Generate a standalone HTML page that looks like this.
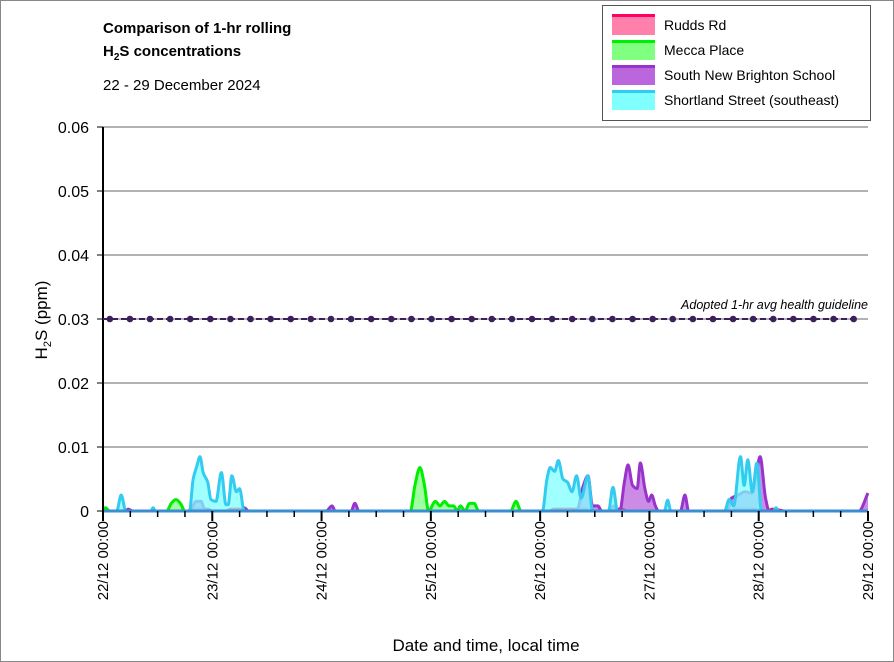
<!DOCTYPE html>
<html><head><meta charset="utf-8">
<style>
body{margin:0;background:#fff;}
svg{display:block;font-family:"Liberation Sans",Calibri,sans-serif;}
</style></head>
<body>
<svg id="chart" width="894" height="662" viewBox="0 0 894 662" xmlns="http://www.w3.org/2000/svg">
<rect x="0.5" y="0.5" width="893" height="661" fill="#fff" stroke="#888"/>
<g>
<text x="103" y="33" font-size="15" font-weight="bold">Comparison of 1-hr rolling</text>
<text x="103" y="56" font-size="15" font-weight="bold">H<tspan font-size="10" dy="4">2</tspan><tspan dy="-4">S concentrations</tspan></text>
<text x="103" y="90" font-size="15">22 - 29 December 2024</text>
</g>
<g id="grid"></g>
<g id="series"></g>
<g id="axes"></g>
<g id="guide"></g>
<text x="868" y="309" font-size="12.5" font-style="italic" text-anchor="end">Adopted 1-hr avg health guideline</text>
<text x="486" y="651" font-size="17" text-anchor="middle">Date and time, local time</text>
<text transform="translate(47,320) rotate(-90)" font-size="17" text-anchor="middle">H<tspan font-size="11" dy="4">2</tspan><tspan dy="-4">S (ppm)</tspan></text>
<g>
<rect x="602.5" y="5.5" width="268" height="115" fill="#fff" stroke="#555"/>
<g><rect x="612" y="15" width="43" height="20" fill="#ff80ab"/><rect x="612" y="14" width="43" height="3" fill="#ff0066"/><text x="664" y="30" font-size="14">Rudds Rd</text></g>
<g><rect x="612" y="40" width="43" height="20" fill="#80ff80"/><rect x="612" y="40" width="43" height="3" fill="#00ee00"/><text x="664" y="55" font-size="14">Mecca Place</text></g>
<g><rect x="612" y="65" width="43" height="20" fill="#bb66dd"/><rect x="612" y="65" width="43" height="3" fill="#9933cc"/><text x="664" y="80" font-size="14">South New Brighton School</text></g>
<g><rect x="612" y="90" width="43" height="20" fill="#80ffff"/><rect x="612" y="90" width="43" height="3" fill="#33ccf0"/><text x="664" y="105" font-size="14">Shortland Street (southeast)</text></g>
</g>
</svg>
<script>
// hours since 22/12 00:00 and ppm values
const yTicks = [0, 0.01, 0.02, 0.03, 0.04, 0.05, 0.06];
const yTickLabels = ["0", "0.01", "0.02", "0.03", "0.04", "0.05", "0.06"];
const dayLabels = ["22/12 00:00","23/12 00:00","24/12 00:00","25/12 00:00","26/12 00:00","27/12 00:00","28/12 00:00","29/12 00:00"];
const guidelineValue = 0.03;
const ruddsT = [0,19,20,21.5,23,24,27,28,30,31,98,99,106,107,112,113,114,115,138,139,143,144,146,147,150,168];
const ruddsV = [0,0,0.0003,0.0003,0.0003,0,0,0.0003,0.0003,0,0,0.0003,0.0003,0,0,0.0003,0.0003,0,0,0.0003,0.0003,0,0,0.0003,0,0];
const meccaT = [0,0.5,1.5,14,15,16,17,18,67.5,68.5,69.6,70.6,71.5,73,74,75,76,77,77.8,78.5,79.5,80.5,81.5,82.5,89.5,90.7,91.8,168];
const meccaV = [0,0.0005,0,0,0.0012,0.0018,0.0012,0,0,0.004,0.0068,0.004,0,0.0015,0.0008,0.0015,0.0008,0.0008,0,0.0008,0,0.0012,0.0012,0,0,0.0015,0,0];
const snbT = [0,5,5.5,6.5,19,20.5,21.5,22.5,30,31,32,49,50.3,51,54.5,55.3,56.2,104,105.5,106.5,107.5,108,108.7,109.5,111.5,112.1,112.7,113.5,114.5,115.3,116.3,117.3,118,119,119.8,120.5,121.3,122,126.8,127.8,128.6,137,138,139.5,141,142.5,143.5,144.3,145.5,146.3,166,168];
const snbV = [0,0,0.0003,0,0,0.0015,0.0015,0,0,0.0005,0,0,0.0008,0,0,0.0012,0,0,0.004,0.0055,0.0008,0.0008,0.0008,0,0,0.0008,0,0,0.0045,0.0072,0.004,0.0035,0.0075,0.0035,0.0015,0.0025,0.0008,0,0,0.0025,0,0,0.002,0.0025,0.003,0.0028,0.006,0.0085,0.002,0,0,0.0028];
const shortT = [0,3,4,5,10.5,11,11.5,19,19.8,20.6,21.3,22,23,23.7,24.8,26,27,27.5,28.3,29.3,30,31,96.5,97.5,98.2,99.2,100,101,102,103,104,105,106.5,107.5,111,112,113,123.3,124,124.7,136.5,137.5,138.5,140,140.8,141.6,142.6,143.6,144.6,147.2,147.8,148.4,168];
const shortV = [0,0,0.0025,0,0,0.0005,0,0,0.005,0.007,0.0085,0.006,0.0045,0.0018,0.0015,0.006,0.001,0.001,0.0055,0.003,0.0035,0,0,0.005,0.0068,0.0062,0.0079,0.005,0.0045,0.003,0.0055,0.002,0.0055,0,0,0.0037,0,0,0.0017,0,0,0.0018,0.0008,0.0085,0.004,0.008,0.003,0.0075,0,0,0.0005,0,0];

const NS="http://www.w3.org/2000/svg";
const X0=103, X1=868, Y0=511, Y1=127, TMAX=168, VMAX=0.06;
const xs=t=>X0+(t/TMAX)*(X1-X0);
const ys=v=>Y0-(v/VMAX)*(Y0-Y1);
function mk(tag,attrs,parent){const e=document.createElementNS(NS,tag);for(const k in attrs)e.setAttribute(k,attrs[k]);parent.appendChild(e);return e;}
const grid=document.getElementById('grid'), axes=document.getElementById('axes');
yTicks.forEach((v,i)=>{
  if(v>0){const l=mk('line',{x1:X0,x2:X1,y1:ys(v),y2:ys(v),stroke:'#999','stroke-width':1.5},grid);
  
  }
  const t=mk('text',{x:X0-14,y:ys(v)+6,'font-size':16,'text-anchor':'end'},axes);
  t.textContent=yTickLabels[i];
  
  
  const tk=mk('line',{x1:X0-6,x2:X0,y1:ys(v),y2:ys(v),stroke:'#000'},axes);
  
  
});
const ya=mk('line',{x1:X0,x2:X0,y1:Y1,y2:Y0,stroke:'#000','stroke-width':2},axes);


for(let h=0;h<=TMAX;h+=6){
  const major=h%24===0;
  const tk=mk('line',{x1:xs(h),x2:xs(h),y1:Y0,y2:Y0+(major?10:6),stroke:'#000','stroke-width':major?2:1.5},axes);
  
  
}
dayLabels.forEach((lab,i)=>{
  const x=xs(i*24);
  const t=mk('text',{transform:`translate(${x+5},521) rotate(-90)`,'font-size':15,'text-anchor':'end'},axes);
  t.textContent=lab;
  
  
});
// monotone cubic (Fritsch-Carlson) - no overshoot
function smoothPath(T,V){
  const x=T.map(xs), y=V.map(ys), n=x.length;
  const d=[],m=new Array(n).fill(0);
  for(let i=0;i<n-1;i++) d.push((y[i+1]-y[i])/((x[i+1]-x[i])||1e-6));
  m[0]=d[0]; m[n-1]=d[n-2];
  for(let i=1;i<n-1;i++){
    if(d[i-1]*d[i]<=0) m[i]=0;
    else {const w1=2*(x[i+1]-x[i])+(x[i]-x[i-1]), w2=(x[i+1]-x[i])+2*(x[i]-x[i-1]);
      m[i]=(w1+w2)/(w1/d[i-1]+w2/d[i]);}
  }
  if(d[0]===0) m[0]=0; if(d[n-2]===0) m[n-1]=0;
  let p=`M${x[0]},${y[0]}`;
  for(let i=0;i<n-1;i++){
    const h=(x[i+1]-x[i])/3;
    p+=` C${x[i]+h},${y[i]+m[i]*h} ${x[i+1]-h},${y[i+1]-m[i+1]*h} ${x[i+1]},${y[i+1]}`;
  }
  return p;
}
const ser=document.getElementById('series');
function drawSeries(T,V,fill,stroke,name){
  const d=smoothPath(T,V);
  const a=mk('path',{d:d+` L${xs(T[T.length-1])},${Y0} L${xs(T[0])},${Y0} Z`,fill:fill,'fill-opacity':0.75,stroke:'none'},ser);
  
  
  const l=mk('path',{d:d,fill:'none',stroke:stroke,'stroke-width':3,'stroke-linejoin':'round'},ser);
  
  
}
drawSeries(ruddsT,ruddsV,'#ff80ab','#ff0066','rudds-rd');
drawSeries(meccaT,meccaV,'#80ff80','#00ee00','mecca-place');
drawSeries(snbT,snbV,'#bb66dd','#9933cc','south-new-brighton');
drawSeries(shortT,shortV,'#80ffff','#33ccf0','shortland-street');
const base=mk('line',{x1:X0,x2:X1,y1:Y0,y2:Y0,stroke:'#3a8ed0','stroke-width':3},ser);


const g=document.getElementById('guide');
const gl=mk('line',{x1:X0,x2:X1-10,y1:ys(guidelineValue),y2:ys(guidelineValue),stroke:'#3d1f5c','stroke-width':2,'stroke-dasharray':'6,3'},g);


for(let i=0;i<38;i++){
  const c=mk('circle',{cx:xs(1.5+i*4.415),cy:ys(guidelineValue),r:3.3,fill:'#3d1f5c'},g);
  
  
}
</script>
</body></html>
